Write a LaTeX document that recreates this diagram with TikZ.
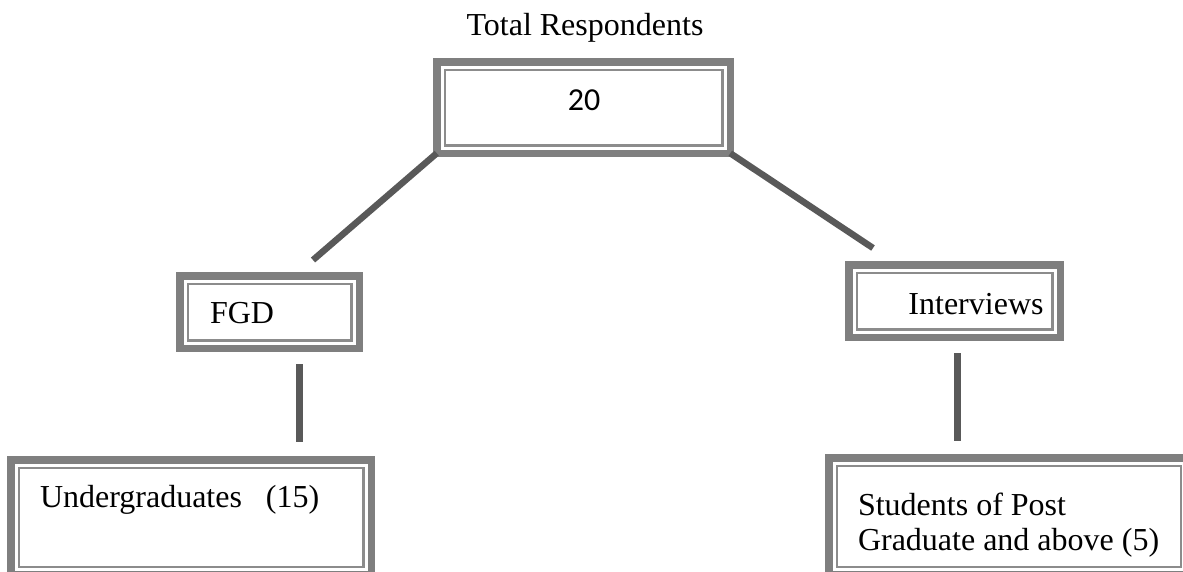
\documentclass[tikz,border=0pt]{standalone}
\usepackage{fontspec}
\setmainfont{Liberation Serif}
\newfontfamily\numfont{Carlito}
\usetikzlibrary{calc}

\definecolor{framegray}{HTML}{7F7F7F}
\definecolor{rulegray}{HTML}{8C8C8C}
\definecolor{linkgray}{HTML}{595959}

\tikzset{
  % thick outer frame with a thin inner rule (thick-thin double border)
  dbox/.style={
    draw=framegray, line width=7.5pt, fill=white,
    inner sep=0pt, outer sep=0pt,
    path picture={
      \draw[rulegray, line width=2.5pt]
        ([shift={(8pt,8pt)}]path picture bounding box.south west)
        rectangle
        ([shift={(-8pt,-8pt)}]path picture bounding box.north east);
    }
  },
  txt/.style={inner sep=0pt, outer sep=0pt, font=\fontsize{32}{35}\selectfont},
  link/.style={draw=linkgray, line width=6.5pt},
  vlink/.style={draw=linkgray, line width=7pt}
}

\begin{document}
\begin{tikzpicture}[x=1pt, y=-1pt]
  \useasboundingbox (0,0) rectangle (1183,571);
  \clip (0,0) rectangle (1183,571);

  % boxes
  \node[dbox, minimum width=293.5pt, minimum height=91.5pt] (top) at (583.5,107.5) {};
  \node[dbox, minimum width=179.5pt, minimum height=72.5pt] (fgd) at (269.5,312) {};
  \node[dbox, minimum width=211.5pt, minimum height=72.5pt] (int) at (954.5,301) {};
  \node[dbox, minimum width=360.5pt, minimum height=115pt] (ug) at (191,517.5) {};
  \node[dbox, minimum width=360pt, minimum height=117pt] (stu) at (1008.9,516.5) {};

  % texts
  \node[txt, anchor=base] (title) at (585,35) {Total Respondents};
  \node[txt, anchor=base, font=\numfont\fontsize{32}{35}\selectfont] (total) at (584,110) {20};
  \node[txt, anchor=base west] (fgdtext) at (210,323) {FGD};
  \node[txt, anchor=base] (inttext) at (976,314) {Interviews};
  \node[txt, anchor=base west] (ugtext) at (40,507) {Undergraduates~~~(15)};
  \node[txt, anchor=base west] (stutexta) at (858,515) {Students of Post};
  \node[txt, anchor=base west] (stutextb) at (858,550) {Graduate and above (5)};

  % free ends of the connectors
  \coordinate (lend) at (313,260);
  \coordinate (rend) at (873,248);
  \coordinate (fgdA) at (299,364);
  \coordinate (fgdB) at (299,442);
  \coordinate (intA) at (957,353);
  \coordinate (intB) at (957,441);

  % connectors
  \draw[link] (top.south west) -- (lend);
  \draw[link] (top.south east) -- (rend);
  \draw[vlink] (fgdA) -- (fgdB);
  \draw[vlink] (intA) -- (intB);
\end{tikzpicture}
\end{document}
